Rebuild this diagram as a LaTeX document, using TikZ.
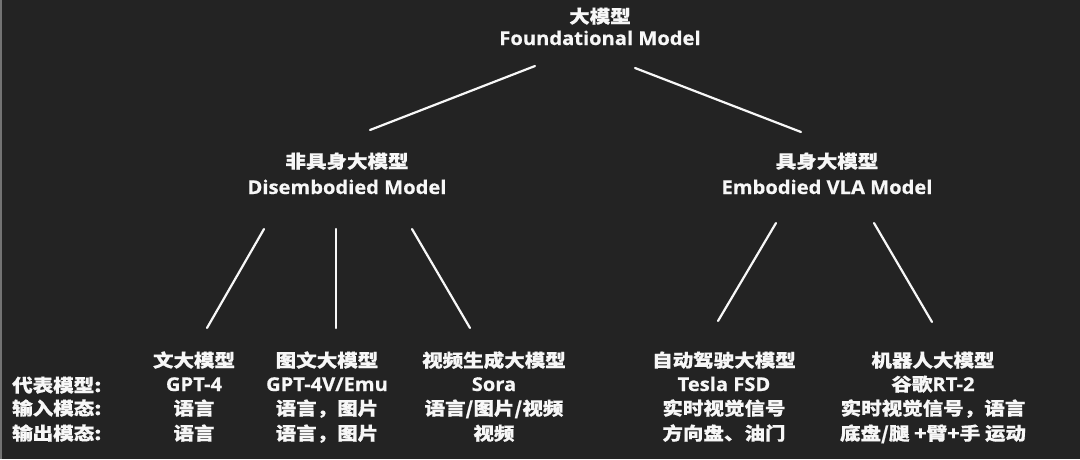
\documentclass[tikz,border=0pt]{standalone}
\usepackage{fontspec}
\newfontfamily\cjk{Noto Sans CJK SC}[FakeStretch=1.14, FakeBold=0.6]
\newfontfamily\lat{Open Sans}[FakeStretch=1.06, FakeBold=0.5]
\definecolor{bg}{HTML}{232323}
\definecolor{txt}{HTML}{F7F7F7}
\tikzset{
  cj/.style={inner sep=0pt, anchor=base, text=txt, font={\fontsize{18pt}{20pt}\selectfont\cjk\bfseries}},
  la/.style={inner sep=0pt, anchor=base, text=txt, font={\fontsize{19pt}{21pt}\selectfont\lat\bfseries}},
  lbl/.style={cj, anchor=base west},
  conn/.style={draw=txt, line width=2.2pt, line cap=round}
}
\begin{document}
\begin{tikzpicture}[x=1pt,y=-1pt]
\fill[bg] (0,0) rectangle (1080,459);
\useasboundingbox (0,0) rectangle (1080,459);
\fill[black!55] (0,0) rectangle (2,459);
% top
\node[cj] (topc) at (600,23) {大模型};
\node[la] (tope) at (600,45) {Foundational Model};
% middle
\node[cj] (disc) at (347,168) {非具身大模型};
\node[la] (dise) at (347,194) {Disembodied Model};
\node[cj] (embc) at (827,168) {具身大模型};
\node[la] (embe) at (827,194) {Embodied VLA Model};
% labels
\node[lbl] (l1) at (12,392) {代表模型:};
\node[lbl] (l2) at (12,415) {输入模态:};
\node[lbl] (l3) at (12,440) {输出模态:};
% column 1
\node[cj] (a1) at (194,367) {文大模型};
\node[la] (a2) at (194,391) {GPT-4};
\node[cj] (a3) at (194,415) {语言};
\node[cj] (a4) at (194,440) {语言};
% column 2
\node[cj] (b1) at (327,367) {图文大模型};
\node[la] (b2) at (327,391) {GPT-4V/Emu};
\node[cj] (b3) at (327,415) {语言，图片};
\node[cj] (b4) at (327,440) {语言，图片};
% column 3
\node[cj] (c1) at (494,367) {视频生成大模型};
\node[la] (c2) at (494,391) {Sora};
\node[cj] (c3) at (494,415) {语言/图片/视频};
\node[cj] (c4) at (494,440) {视频};
% column 4
\node[cj] (d1) at (724,367) {自动驾驶大模型};
\node[la] (d2) at (724,391) {Tesla FSD};
\node[cj] (d3) at (724,415) {实时视觉信号};
\node[cj] (d4) at (724,440) {方向盘、油门};
% column 5
\node[cj] (e1) at (933,367) {机器人大模型};
\node[cj] (e2) at (933,391) {谷歌{\fontsize{19pt}{21pt}\selectfont\lat\bfseries RT-2}};
\node[cj] (e3) at (933,415) {实时视觉信号，语言};
\node[cj] (e4) at (933,440) {底盘/腿 +臂+手 运动};
% connector ends
\coordinate (tL) at (535,66);
\coordinate (tR) at (635,68);
\coordinate (dT) at (370,130);
\coordinate (eT) at (801,132);
\coordinate (dA) at (264,229);
\coordinate (dB) at (336,229);
\coordinate (dC) at (412,229);
\coordinate (eD) at (776,223);
\coordinate (eE) at (874,223);
\coordinate (aT) at (207,328);
\coordinate (bT) at (336,328);
\coordinate (cT) at (470,328);
\coordinate (dT4) at (718,321);
\coordinate (eT5) at (932,322);
\draw[conn] (tL) -- (dT);
\draw[conn] (tR) -- (eT);
\draw[conn] (dA) -- (aT);
\draw[conn] (dB) -- (bT);
\draw[conn] (dC) -- (cT);
\draw[conn] (eD) -- (dT4);
\draw[conn] (eE) -- (eT5);
\end{tikzpicture}
\end{document}
